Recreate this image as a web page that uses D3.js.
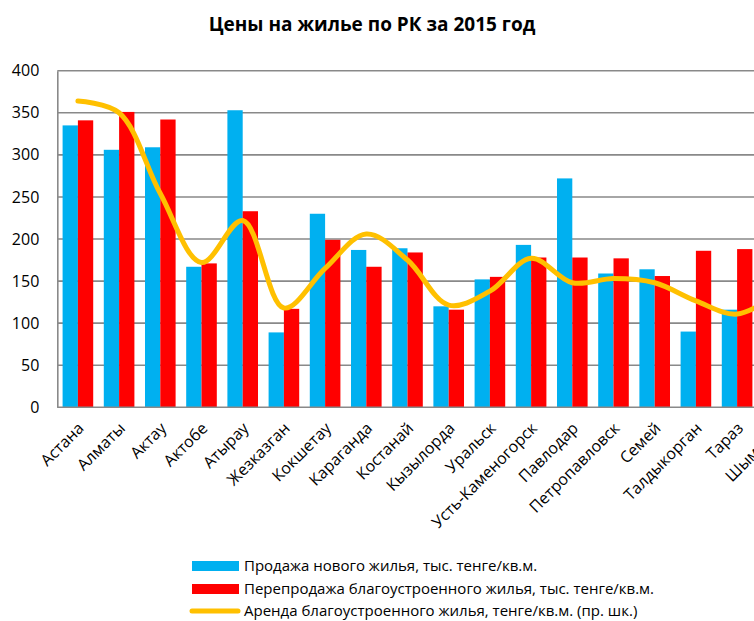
<!DOCTYPE html>
<html>
<head>
<meta charset="utf-8">
<script src="https://cdn.jsdelivr.net/npm/d3@7"></script>
<style>
  html, body { margin: 0; padding: 0; background: #fff; overflow: hidden; }
  text { font-family: "Open Sans", "Noto Sans", sans-serif; fill: #000; }
</style>
</head>
<body>
<div id="chart"></div>
<script>
//Categories (cities)
var cities = ["Астана", "Алматы", "Актау", "Актобе", "Атырау", "Жезказган", "Кокшетау",
  "Караганда", "Костанай", "Кызылорда", "Уральск", "Усть-Каменогорск", "Павлодар",
  "Петропавловск", "Семей", "Талдыкорган", "Тараз", "Шымкент"];

//Sale of new housing, thousand tenge / sq.m
var newSale = [335, 306, 309, 167, 353, 89, 230, 187, 189, 120, 152, 193, 272, 159, 164, 90, 116, 160];

//Resale of housing, thousand tenge / sq.m
var resale = [341, 351, 342, 171, 233, 117, 199, 167, 184, 116, 155, 178, 178, 177, 156, 186, 188, 165];

//Rent, tenge / sq.m (right axis)
var rent = [3640, 3500, 2540, 1720, 2220, 1180, 1650, 2060, 1750, 1215, 1380, 1770, 1480, 1530, 1480, 1265, 1108, 1350];

var leftTicks = [0, 50, 100, 150, 200, 250, 300, 350, 400];

var seriesNames = ["Продажа нового жилья, тыс. тенге/кв.м.",
  "Перепродажа благоустроенного жилья, тыс. тенге/кв.м.",
  "Аренда благоустроенного жилья, тенге/кв.м. (пр. шк.)"];

var colors = ["#00B0F0", "#FF0000", "#FFC000"];

//Width and height (plot runs past the right edge, like the source)
var w = 860;
var h = 621;
var margin = {left: 57.3, top: 70.7, bottom: 407.3};
var band = 41.2;

var xScale = d3.scaleBand()
  .domain(cities)
  .range([margin.left, margin.left + band * cities.length])
  .paddingInner(0.257)
  .paddingOuter(0.1285);

var yScale = d3.scaleLinear()
  .domain([0, 400])
  .range([margin.bottom, margin.top]);

var yRight = d3.scaleLinear()
  .domain([0, 4000])
  .range([margin.bottom, margin.top]);

var svg = d3.select("#chart")
  .append("svg")
  .attr("width", w)
  .attr("height", h);

//Title
svg.append("text")
  .attr("x", 372)
  .attr("y", 31)
  .attr("text-anchor", "middle")
  .style("font-size", "19px")
  .style("font-weight", "bold")
  .text("Цены на жилье по РК за 2015 год");

//Gridlines
svg.append("g")
  .selectAll("line")
  .data(leftTicks.slice(1))
  .enter()
  .append("line")
  .attr("x1", margin.left)
  .attr("x2", w)
  .attr("y1", function(d){ return yScale(d); })
  .attr("y2", function(d){ return yScale(d); })
  .attr("stroke", "#898989")
  .attr("stroke-width", 1.6);

//Bars
var sub = d3.scaleBand()
  .domain([0, 1])
  .range([0, xScale.bandwidth()]);

var barData = [newSale, resale];
var groups = svg.selectAll("g.series")
  .data(barData)
  .enter()
  .append("g")
  .attr("class", "series")
  .style("fill", function(d, i){ return colors[i]; });

groups.selectAll("rect")
  .data(function(d, i){
    return d.map(function(v, j){ return {v: v, city: cities[j], s: i}; });
  })
  .enter()
  .append("rect")
  .attr("x", function(d){ return xScale(d.city) + sub(d.s); })
  .attr("y", function(d){ return yScale(d.v); })
  .attr("width", sub.bandwidth())
  .attr("height", function(d){ return yScale(0) - yScale(d.v); });

//Rent line
var line = d3.line()
  .x(function(d, i){ return xScale(cities[i]) + xScale.bandwidth() / 2; })
  .y(function(d){ return yRight(d); })
  .curve(d3.curveCatmullRom.alpha(0.5));

svg.append("path")
  .datum(rent)
  .attr("d", line)
  .attr("fill", "none")
  .attr("stroke", colors[2])
  .attr("stroke-width", 5)
  .attr("stroke-linecap", "round");

//Left axis
var yAxis = d3.axisLeft(yScale)
  .tickValues(leftTicks)
  .tickSize(0)
  .tickPadding(18);

var gy = svg.append("g")
  .attr("transform", "translate(" + margin.left + ",0)")
  .call(yAxis);
gy.select(".domain").attr("stroke", "#898989").attr("stroke-width", 1.6);
gy.selectAll("text").style("font-size", "16px").attr("font-family", null);

//Bottom axis line
svg.append("line")
  .attr("x1", margin.left)
  .attr("x2", w)
  .attr("y1", yScale(0))
  .attr("y2", yScale(0))
  .attr("stroke", "#898989")
  .attr("stroke-width", 1.6);

//Category labels
svg.append("g")
  .selectAll("text")
  .data(cities)
  .enter()
  .append("text")
  .attr("text-anchor", "end")
  .attr("transform", function(d){
    var cx = xScale(d) + xScale.bandwidth() / 2 + 7;
    return "translate(" + cx + "," + (yScale(0) + 22) + ") rotate(-45)";
  })
  .style("font-size", "16px")
  .text(function(d){ return d; });

//Legend
var legend = svg.append("g");
var rows = [566, 589, 611];

legend.selectAll("rect")
  .data([0, 1])
  .enter()
  .append("rect")
  .attr("x", 192)
  .attr("y", function(d){ return rows[d] - 5; })
  .attr("width", 47)
  .attr("height", 10)
  .style("fill", function(d){ return colors[d]; });

legend.append("line")
  .attr("x1", 192)
  .attr("x2", 238)
  .attr("y1", rows[2])
  .attr("y2", rows[2])
  .attr("stroke", colors[2])
  .attr("stroke-width", 5)
  .attr("stroke-linecap", "round");

legend.selectAll("text")
  .data(seriesNames)
  .enter()
  .append("text")
  .attr("x", 244)
  .attr("y", function(d, i){ return rows[i] + 5; })
  .style("font-size", "15px")
  .text(function(d){ return d; });
</script>
</body>
</html>
